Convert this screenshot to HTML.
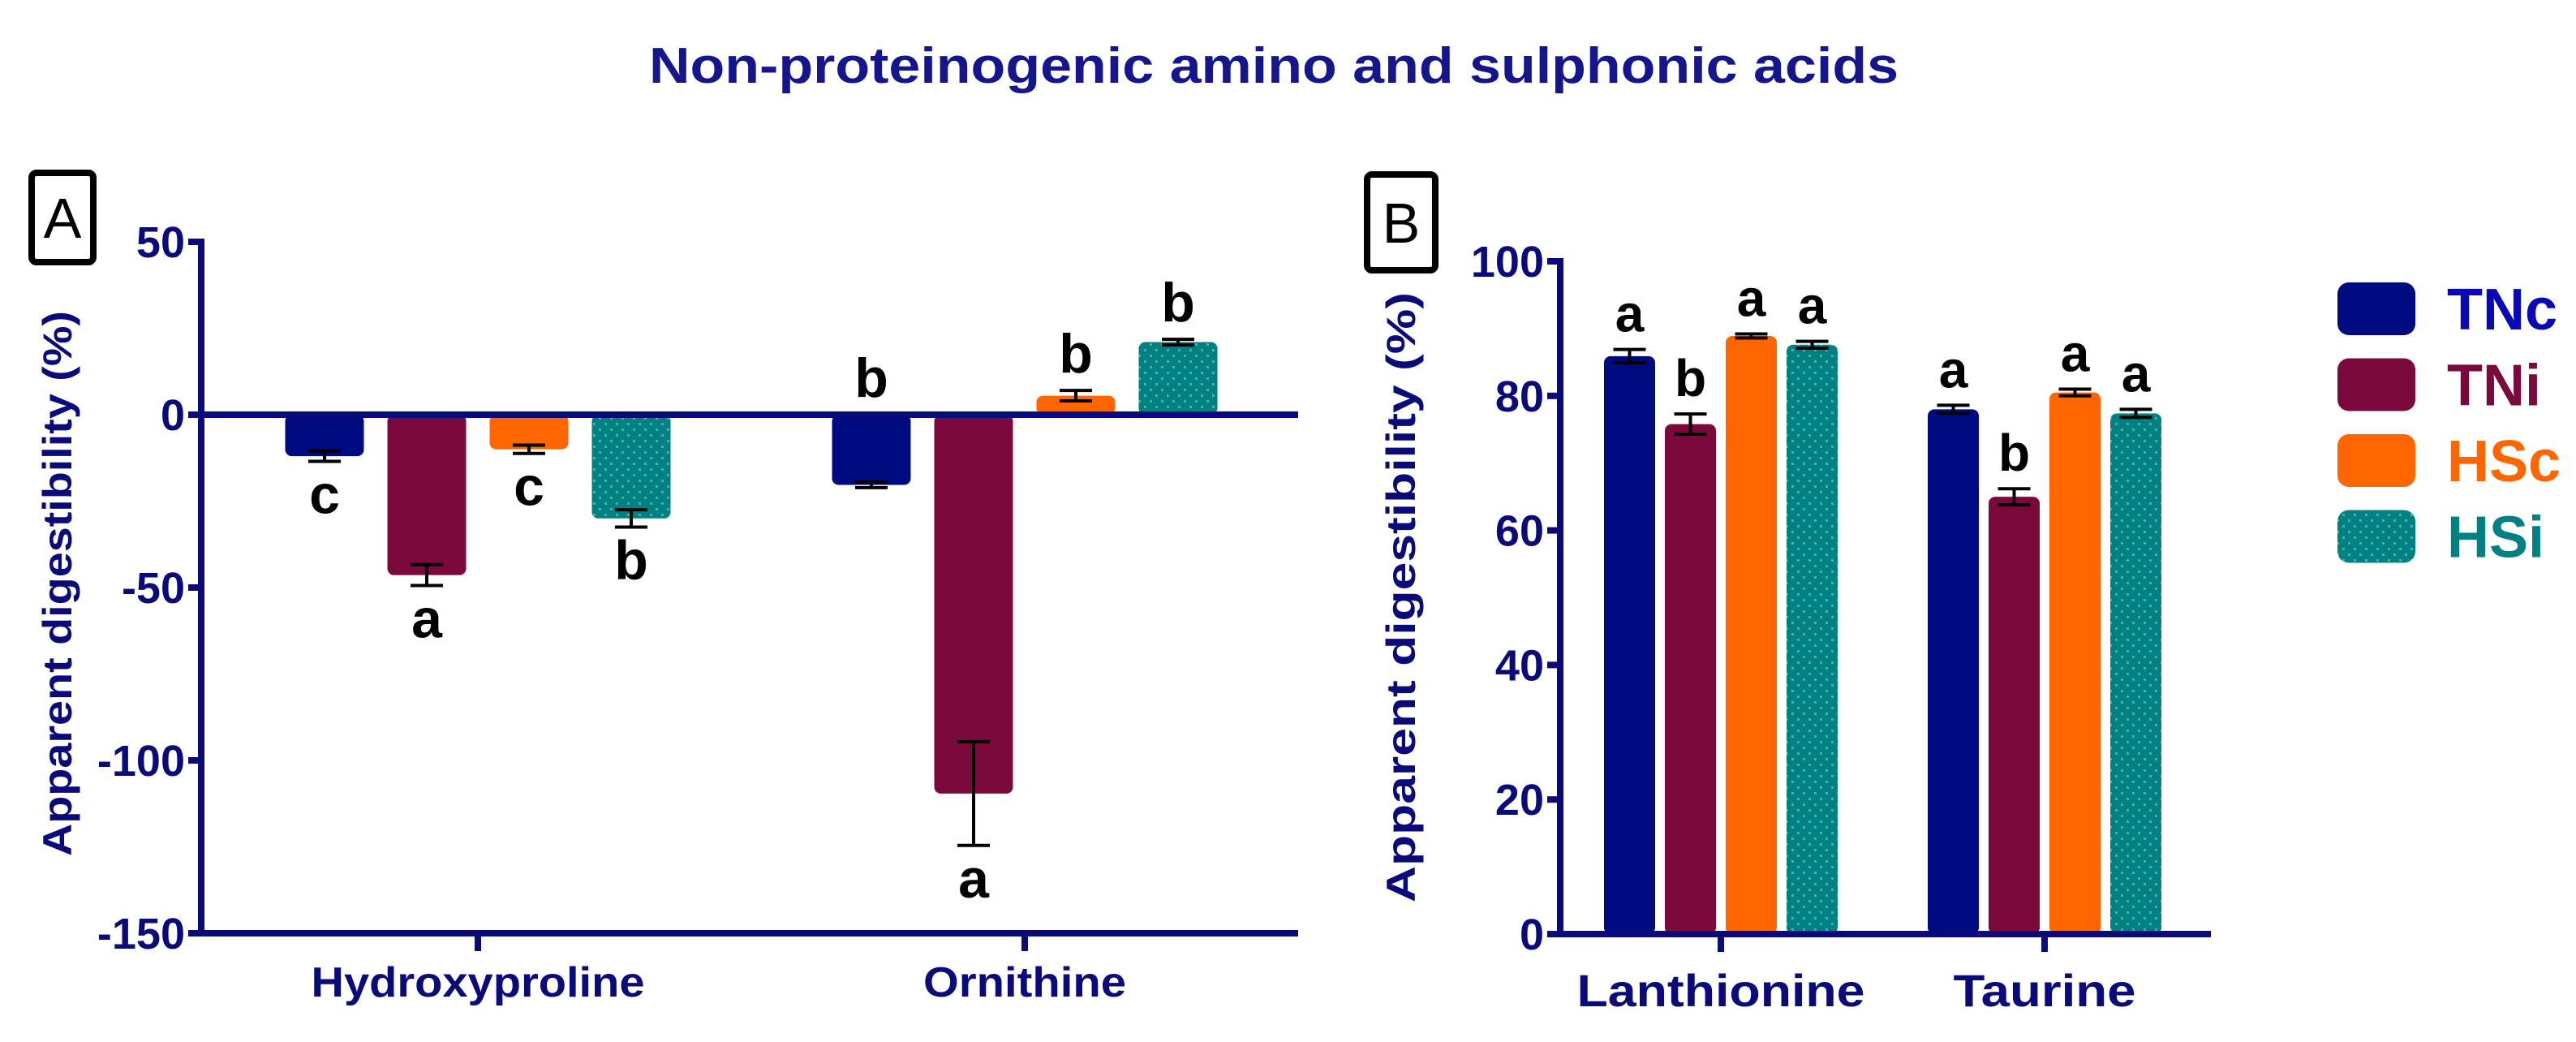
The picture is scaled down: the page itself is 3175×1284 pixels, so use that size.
<!DOCTYPE html>
<html><head><meta charset="utf-8"><style>
html,body{margin:0;padding:0;background:#fff;}
svg{display:block;font-family:"Liberation Sans",Arial,sans-serif;font-weight:bold;}
</style></head><body>
<svg id="chart" width="3175" height="1284" viewBox="0 0 3175 1284" xmlns="http://www.w3.org/2000/svg">
<defs>
<pattern id="dots" width="14" height="14" patternUnits="userSpaceOnUse">
<rect width="14" height="14" fill="#008080"/><rect x="3" y="3" width="3" height="3" fill="#3cb4b4"/><rect x="10" y="10" width="3" height="3" fill="#3cb4b4"/>
</pattern>
</defs>
<text x="1570" y="102" text-anchor="middle" font-size="62" fill="#16168c" textLength="1540" lengthAdjust="spacingAndGlyphs">Non-proteinogenic amino and sulphonic acids</text>
<g id="gA"></g>
<g id="gB"></g>
<g id="legend"></g>
</svg>
<script>
const seriesNames = ["TNc","TNi","HSc","HSi"];
const catsA = ["Hydroxyproline","Ornithine"];
const valsA = [[-12,-20.3],[-46.4,-109.6],[-10,5.5],[-30,21]];
const errsA = [[1.5,0.8],[3,15],[1.2,1.5],[2.5,0.8]];
const lettersA = [["c","b"],["a","a"],["c","b"],["b","b"]];
const posA = [["below","above"],["below","below"],["below","above"],["below","above"]];
const ticksA = [50,0,-50,-100,-150];
const catsB = ["Lanthionine","Taurine"];
const valsB = [[85.9,78],[75.8,65],[88.9,80.5],[87.6,77.4]];
const errsB = [[1,0.6],[1.5,1.2],[0.3,0.5],[0.5,0.6]];
const lettersB = [["a","a"],["b","b"],["a","a"],["a","a"]];
const posB = [["above","above"],["above","above"],["above","above"],["above","above"]];
const ticksB = [100,80,60,40,20,0];
const colors = ["#000a80","#7a0a3c","#ff6600","url(#dots)"];
const textColors = ["#0a0ab4","#7a0a3c","#ff6600","#008080"];
const NAVY = "#0a0a78";
const NS = "http://www.w3.org/2000/svg";
function mk(parent, tag, attrs, txt){const e=document.createElementNS(NS,tag);for(const k in attrs)e.setAttribute(k,attrs[k]);if(txt!==undefined)e.textContent=txt;parent.appendChild(e);return e;}

function panel(g, o){
  const y = v => o.y0 + (o.vmax - v) * (o.y1 - o.y0) / (o.vmax - o.vmin);
  o.ticks.forEach(t=>{
    const tl=mk(g,'line',{x1:o.ax-16,x2:o.ax,y1:y(t),y2:y(t),stroke:NAVY,'stroke-width':8});
    
    
    const tx=mk(g,'text',{x:o.ax-20,y:y(t)+19,'text-anchor':'end','font-size':o.tfs,fill:NAVY},String(t));
    
    
  });
  o.cats.forEach((c,ci)=>{
    const cx = o.catX[ci];
    for(let s=0;s<4;s++){
      const v=o.vals[s][ci], e=o.errs[s][ci];
      const bx = cx + (s-1.5)*o.pitch - o.bw/2;
      const top=Math.min(y(v),y(0)), h=Math.abs(y(v)-y(0));
      const r=mk(g,'rect',{x:bx,y:top,width:o.bw,height:h,rx:8,fill:colors[s]});
      
      
      const mx=bx+o.bw/2, ye1=y(v+e), ye2=y(v-e);
      const eb=mk(g,'path',{d:`M${mx-20},${ye1}H${mx+20}M${mx},${ye1}V${ye2}M${mx-20},${ye2}H${mx+20}`,stroke:'#000','stroke-width':4,fill:'none'});
      
      
      let ly;
      if(o.pos[s][ci]==='above'){ ly = Math.min(y(Math.max(v,0)+(v>0?e:0)), y(0)) - 22; }
      else { ly = y(v-e)+64; }
      const lt=mk(g,'text',{x:mx,y:ly,'text-anchor':'middle','font-size':o.lfs,fill:'#000'},o.letters[s][ci]);
      
      
    }
    const ct=mk(g,'line',{x1:cx,x2:cx,y1:o.y1,y2:o.y1+22,stroke:NAVY,'stroke-width':8});
    
    
    const cl=mk(g,'text',{x:cx,y:o.catY,'text-anchor':'middle','font-size':o.cfs,fill:NAVY,textLength:o.catW[ci],lengthAdjust:'spacingAndGlyphs'},c);
    
    
  });
  const ya=mk(g,'line',{x1:o.ax,x2:o.ax,y1:o.y0-4,y2:o.y1+4,stroke:NAVY,'stroke-width':8});
  
  
  const xa=mk(g,'line',{x1:o.ax,x2:o.xend,y1:o.y1,y2:o.y1,stroke:NAVY,'stroke-width':8});
  
  
  if(o.vmin<0){
    const zl=mk(g,'line',{x1:o.ax,x2:o.xend,y1:y(0),y2:y(0),stroke:NAVY,'stroke-width':8});
    
    
  }
  const yt=mk(g,'text',{x:0,y:0,transform:`translate(${o.ytx},${o.yty}) rotate(-90)`,'text-anchor':'middle','font-size':50,fill:NAVY,textLength:o.ytl,lengthAdjust:'spacingAndGlyphs'},'Apparent digestibility (%)');
  
  
  const bx=mk(g,'rect',{x:o.box[0],y:o.box[1],width:o.box[2],height:o.box[3],rx:6,fill:'none',stroke:'#000','stroke-width':8});
  
  
  const bl=mk(g,'text',{x:o.box[0]+o.box[2]/2,y:o.box[1]+o.box[3]/2+25,'text-anchor':'middle','font-size':70,'font-weight':'normal',fill:'#000'},o.label);
  
  
}

panel(document.getElementById('gA'),{vals:valsA,errs:errsA,letters:lettersA,pos:posA,cats:catsA,ticks:ticksA,vmax:50,vmin:-150,y0:298,y1:1150,ax:248,xend:1600,catX:[589,1263],pitch:126,bw:97,tfs:54,lfs:68,cfs:52,catY:1228,catW:[411,250],ytx:88,yty:719,ytl:672,box:[39,213,76,110],label:'A'});
panel(document.getElementById('gB'),{vals:valsB,errs:errsB,letters:lettersB,pos:posB,cats:catsB,ticks:ticksB,vmax:100,vmin:0,y0:322,y1:1151,ax:1923,xend:2725,catX:[2121,2520],pitch:75,bw:63,tfs:54,lfs:64,cfs:56,catY:1240,catW:[355,225],ytx:1744,yty:736,ytl:752,box:[1685,215,84,118],label:'B'});

const lg=document.getElementById('legend');
seriesNames.forEach((n,i)=>{
  const yy=380+i*93.5;
  const r=mk(lg,'rect',{x:2881,y:yy-32,width:96,height:65,rx:14,fill:colors[i]});
  
  
  const t=mk(lg,'text',{x:3016,y:yy+26,'font-size':72,fill:textColors[i]},n);
  
  
});
</script>
</body></html>
